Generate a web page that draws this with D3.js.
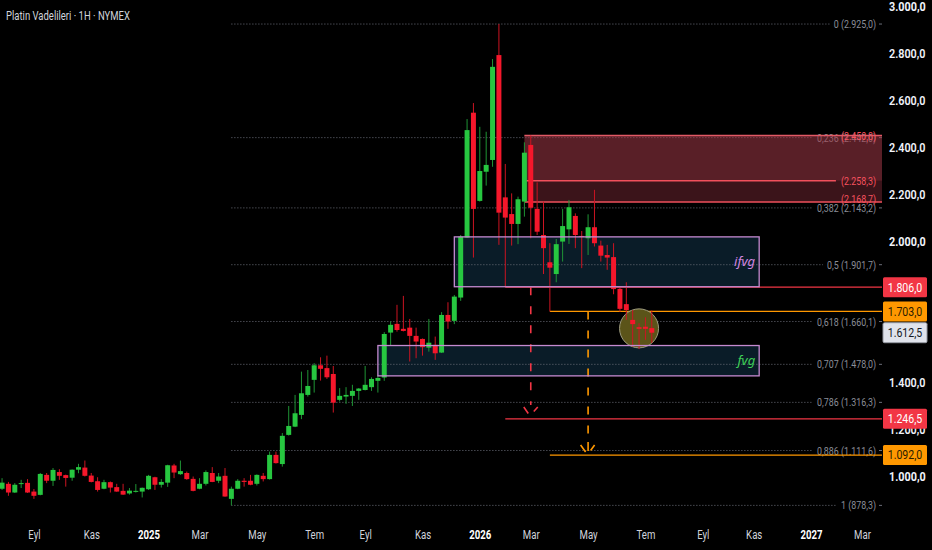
<!DOCTYPE html>
<html>
<head>
<meta charset="utf-8">
<script src="https://cdn.jsdelivr.net/npm/d3@7"></script>
<style>
  html, body { margin: 0; background: #000; overflow: hidden; }
  svg { display: block; }
</style>
</head>
<body>
<svg id="chart" width="932" height="550"></svg>
<script>
// Haftalık mumlar (1H = 1 hafta), ilk mum haftası
const firstWeek = "2024-07-29";

const open = [949, 970, 933, 969, 974, 937, 923, 1008, 983, 1020, 1007, 996, 1030, 1039, 1005, 981, 949, 977, 956, 940,
  929, 937, 937, 947, 998, 966, 975, 1048, 1011, 1016, 991, 949, 970, 1016, 983, 1004, 906, 949, 983, 983,
  970, 1004, 990, 1093, 1054, 1178, 1213, 1263, 1348, 1412, 1474, 1462, 1437, 1327, 1341, 1344, 1365, 1369, 1381, 1408,
  1422, 1613, 1650, 1629, 1634, 1599, 1586, 1549, 1561, 1528, 1688, 1663, 1762, 2017, 2548, 2173, 2297, 2347, 2793, 2188,
  2117, 2075, 2170, 2411, 2139, 2028, 1912, 1862, 2000, 2052, 2109, 2024, 2014, 2061, 1983, 1943, 1934, 1799, 1734, 1667,
  1636, 1638, 1632];
const high = [994, 978, 973, 987, 990, 948, 1016, 1016, 1037, 1032, 1009, 1031, 1055, 1069, 1016, 998, 987, 980, 970, 970,
  952, 969, 954, 1008, 1000, 990, 1051, 1055, 1069, 1022, 1001, 994, 1027, 1041, 1016, 1037, 958, 990, 994, 1008,
  1010, 1016, 1107, 1107, 1186, 1301, 1348, 1447, 1454, 1483, 1508, 1515, 1471, 1377, 1381, 1391, 1377, 1471, 1423, 1433,
  1615, 1660, 1731, 1769, 1671, 1634, 1588, 1671, 1596, 1700, 1742, 1773, 2028, 2521, 2589, 2488, 2467, 2776, 2925, 2330,
  2205, 2191, 2422, 2451, 2252, 2170, 1993, 2011, 2139, 2177, 2120, 2045, 2116, 2220, 2004, 1986, 1993, 1804, 1827, 1709,
  1653, 1678, 1707];
const low = [944, 919, 931, 952, 931, 906, 921, 973, 961, 987, 958, 983, 1015, 1001, 976, 937, 947, 933, 936, 923,
  924, 933, 912, 944, 944, 954, 957, 994, 1008, 987, 938, 947, 963, 977, 973, 915, 878.3, 947, 958, 964,
  963, 980, 988, 1056, 1043, 1175, 1211, 1245, 1341, 1358, 1409, 1416, 1273, 1320, 1310, 1301, 1327, 1367, 1365, 1358,
  1408, 1556, 1617, 1618, 1490, 1504, 1515, 1532, 1497, 1526, 1629, 1649, 1748, 2015, 1932, 2170, 2238, 2318, 1986, 1806,
  1983, 1989, 2106, 2014, 2028, 1862, 1703, 1827, 1915, 1990, 1972, 1887, 1943, 1979, 1915, 1880, 1776, 1702, 1667, 1553,
  1543, 1582, 1569];
const close = [975, 933, 966, 973, 933, 919, 1012, 983, 1029, 1004, 995, 1030, 1041, 1004, 978, 944, 977, 954, 937, 924,
  941, 940, 953, 1004, 966, 978, 1049, 1018, 1024, 990, 940, 970, 1020, 978, 1001, 916, 949, 983, 978, 966,
  1008, 990, 1093, 1058, 1174, 1216, 1270, 1355, 1386, 1474, 1459, 1423, 1315, 1344, 1348, 1365, 1375, 1391, 1416, 1420,
  1607, 1646, 1624, 1620, 1599, 1575, 1551, 1570, 1525, 1688, 1660, 1766, 2021, 2474, 2139, 2300, 2326, 2743, 2123, 2102,
  2075, 2180, 2378, 2144, 2042, 1972, 1889, 1989, 2066, 2146, 2028, 2020, 2061, 1993, 1940, 1932, 1798, 1714, 1709, 1649,
  1629, 1629, 1612.5];

// Fibonacci düzeltmesi
const fibRatios = [0, 0.236, 0.382, 0.5, 0.618, 0.707, 0.786, 0.886, 1];
const fibValues = [2925.0, 2442.0, 2143.2, 1901.7, 1660.1, 1478.0, 1316.3, 1111.6, 878.3];
const fibFrom = 36;

// Arz bölgesi (kırmızı)
const supplyLevels = [2450.8, 2258.3, 2168.7];
const supplyFrom = 82;

// FVG kutuları
const boxNames = ["ifvg", "fvg"];
const boxTops = [2020, 1558];
const boxBottoms = [1808, 1429];
const boxFrom = [71, 59];
const boxEnd = "2026-11-08";

// Yatay seviyeler
const levelValues = [1806.0, 1703.0, 1246.5, 1092.0];
const levelFrom = [79, 86, 79, 86];
const levelKinds = ["red", "orange", "red", "orange"];

// Hedef okları
const projFrom = [83, 92];
const projStart = [1806, 1703];
const projTip = [1267, 1105];
const projKinds = ["red", "orange"];

// Vurgulanan daire
const circleAt = 100;
const circlePrice = 1631;

const lastPrice = 1612.5;
const yTicks = d3.range(1000, 3001, 200);
const monthNames = ["Oca", "Şub", "Mar", "Nis", "May", "Haz", "Tem", "Ağu", "Eyl", "Eki", "Kas", "Ara"];

// ---------------------------------------------------------------------------
const svg = d3.select("#chart");
const W = 932, H = 550, plotR = 882, plotB = 515;
const colors = { red: "#f23645", orange: "#ff9800" };
const upBody = "#27c740", downBody = "#f5172b", upWick = "#1f9435", downWick = "#cc1422";
const font = "Roboto, 'Noto Sans', sans-serif";

const locale = d3.formatLocale({ decimal: ",", thousands: ".", grouping: [3], currency: ["", ""] });
const fmt = locale.format(",.1f");
const ratioFmt = r => String(r).replace(".", ",");

// metni yatayda sıkıştır (referanstaki dar yazı tipine yaklaşmak için)
function squeeze(sel, k) {
  sel.each(function () {
    const w = this.getComputedTextLength();
    d3.select(this).attr("textLength", w * k).attr("lengthAdjust", "spacingAndGlyphs");
  });
  return sel;
}

const start = new Date(firstWeek + "T00:00:00Z");
const dates = open.map((_, i) => d3.utcMonday.offset(start, i));
const candles = dates.map((d, i) => ({ date: d, o: open[i], h: high[i], l: low[i], c: close[i] }));

const x = d3.scaleUtc()
  .domain([new Date(Date.UTC(2024, 8, 1)), new Date(Date.UTC(2027, 2, 1))])
  .range([33, 862]);
const y = d3.scaleLinear().domain([837.4, 3027.2]).range([plotB, 0]);
const bw = (x(dates[1]) - x(dates[0])) * 0.78;

svg.append("rect").attr("width", W).attr("height", H).attr("fill", "#000");
svg.append("defs").append("clipPath").attr("id", "clip")
  .append("rect").attr("width", plotR).attr("height", plotB);

const plot = svg.append("g").attr("clip-path", "url(#clip)");

// FVG kutu dolguları
const boxes = boxNames.map((n, i) => ({ name: n, top: boxTops[i], bottom: boxBottoms[i], from: dates[boxFrom[i]] }));
const endDate = new Date(boxEnd + "T00:00:00Z");
plot.selectAll(".box").data(boxes).enter().append("rect")
  .attr("x", d => x(d.from))
  .attr("y", d => y(d.top))
  .attr("width", d => x(endDate) - x(d.from))
  .attr("height", d => y(d.bottom) - y(d.top))
  .attr("fill", "#0a1c28");

// Fibonacci seviyeleri
const fibG = plot.append("g");
fibRatios.forEach((r, i) => {
  const yy = y(fibValues[i]);
  const t = fibG.append("text")
    .attr("x", 876).attr("y", yy).attr("dy", "0.35em")
    .attr("text-anchor", "end")
    .attr("fill", "#8b8e98")
    .style("font-family", font).style("font-size", "11.5px")
    .text(`${ratioFmt(r)} (${fmt(fibValues[i])})`);
  const tw = t.node().getComputedTextLength() * 0.77;
  squeeze(t, 0.77);
  fibG.append("line")
    .attr("x1", x(dates[fibFrom])).attr("x2", 876 - tw - 4)
    .attr("y1", yy).attr("y2", yy)
    .attr("stroke", "#6a6d78").attr("stroke-dasharray", "1,2");
  fibG.append("line")
    .attr("x1", 879).attr("x2", 882).attr("y1", yy).attr("y2", yy)
    .attr("stroke", "#6a6d78");
});

// Arz bölgesi
const sx = x(dates[supplyFrom]);
plot.append("rect")
  .attr("x", sx).attr("y", y(supplyLevels[0]))
  .attr("width", plotR - sx).attr("height", y(supplyLevels[1]) - y(supplyLevels[0]))
  .attr("fill", "#a33847").attr("fill-opacity", 0.55);
plot.append("rect")
  .attr("x", sx).attr("y", y(supplyLevels[1]))
  .attr("width", plotR - sx).attr("height", y(supplyLevels[2]) - y(supplyLevels[1]))
  .attr("fill", "#a33847").attr("fill-opacity", 0.36);
supplyLevels.forEach((v, i) => {
  const yy = y(v);
  const t = plot.append("text")
    .attr("x", 876).attr("y", yy).attr("dy", i === 2 ? "0.1em" : "0.35em")
    .attr("text-anchor", "end")
    .attr("fill", "#f7525f")
    .style("font-family", font).style("font-size", "11.5px")
    .text(`(${fmt(v)})`);
  const tw = t.node().getComputedTextLength() * 0.77;
  squeeze(t, 0.77);
  plot.append("line")
    .attr("x1", sx).attr("x2", i === 1 ? 876 - tw - 5 : plotR)
    .attr("y1", yy).attr("y2", yy)
    .attr("stroke", i === 0 ? "#e25a66" : "#f0505c").attr("stroke-width", 1.5);
});

// Yatay seviyeler
levelValues.forEach((v, i) => {
  plot.append("line")
    .attr("x1", x(dates[levelFrom[i]])).attr("x2", plotR)
    .attr("y1", y(v)).attr("y2", y(v))
    .attr("stroke", colors[levelKinds[i]]).attr("stroke-width", 1.3);
});

// Hedef okları
projFrom.forEach((idx, i) => {
  const px = x(dates[idx]);
  const c = colors[projKinds[i]];
  const tipY = y(projTip[i]);
  plot.append("line")
    .attr("x1", px).attr("x2", px)
    .attr("y1", y(projStart[i])).attr("y2", tipY - (i === 0 ? 9 : 12))
    .attr("stroke", c).attr("stroke-width", 1.6)
    .attr("stroke-dasharray", "8,11");
  const head = i === 0
    ? "M-7,-7L-2.5,-0.5M7,-7L3,-2.5"
    : "M-7.5,-7L-2.5,0M6.5,-7L2.5,-1.5M0,-10L0,-1";
  plot.append("path")
    .attr("transform", `translate(${px},${tipY})`)
    .attr("d", head)
    .attr("fill", "none").attr("stroke", c).attr("stroke-width", 1.6);
});

// Daire
plot.append("circle")
  .attr("cx", x(dates[circleAt])).attr("cy", y(circlePrice)).attr("r", 19.5)
  .attr("fill", "#5b5419").attr("stroke", "#9d9b80").attr("stroke-width", 1);

// Mumlar
const cg = plot.selectAll(".mum").data(candles).enter().append("g").attr("class", "mum");
cg.append("line")
  .attr("x1", d => x(d.date)).attr("x2", d => x(d.date))
  .attr("y1", d => y(d.h)).attr("y2", d => y(d.l))
  .attr("stroke", d => d.c >= d.o ? upWick : downWick).attr("stroke-width", 1);
cg.append("rect")
  .attr("x", d => x(d.date) - bw / 2)
  .attr("y", d => y(Math.max(d.o, d.c)))
  .attr("width", bw)
  .attr("height", d => Math.max(1, Math.abs(y(d.o) - y(d.c))))
  .attr("fill", d => d.c >= d.o ? upBody : downBody);

// FVG kutu kenarları ve etiketleri
plot.selectAll(".boxline").data(boxes).enter().append("rect")
  .attr("x", d => x(d.from))
  .attr("y", d => y(d.top))
  .attr("width", d => x(endDate) - x(d.from))
  .attr("height", d => y(d.bottom) - y(d.top))
  .attr("fill", "none").attr("stroke", "#c58ad0").attr("stroke-width", 1.3);
plot.selectAll(".boxlabel").data(boxes).enter().append("text")
  .attr("x", x(endDate) - 4)
  .attr("y", d => (y(d.top) + y(d.bottom)) / 2)
  .attr("dy", "0.35em")
  .attr("text-anchor", "end")
  .attr("fill", d => d.name === "ifvg" ? "#d287e0" : "#3fd157")
  .style("font-family", "'Noto Sans', sans-serif").style("font-style", "italic").style("font-size", "13px")
  .text(d => d.name);

// Başlık
squeeze(svg.append("text")
  .attr("x", 6).attr("y", 20)
  .attr("fill", "#d1d4dc")
  .style("font-family", font).style("font-size", "12.5px")
  .text("Platin Vadelileri · 1H · NYMEX"), 0.76);

// Sağ fiyat ekseni
const yAxis = svg.append("g")
  .attr("transform", `translate(${plotR},0)`)
  .call(d3.axisRight(y).tickValues(yTicks).tickFormat(fmt).tickSize(0).tickPadding(7));
yAxis.select(".domain").remove();
squeeze(yAxis.selectAll("text")
  .attr("fill", "#f0f3fa")
  .style("font-family", font)
  .style("font-size", "12px")
  .style("font-weight", d => d % 1000 === 0 ? 700 : 600), 0.9);

// Fiyat etiketleri
const badges = [
  { v: levelValues[0], bg: colors.red, fg: "#fff" },
  { v: levelValues[1], bg: colors.orange, fg: "#2a1c00" },
  { v: lastPrice, bg: "#e0e3eb", fg: "#131722" },
  { v: levelValues[2], bg: colors.red, fg: "#fff" },
  { v: levelValues[3], bg: colors.orange, fg: "#2a1c00" }
];
const bg = svg.selectAll(".badge").data(badges).enter().append("g").attr("class", "badge");
bg.append("rect")
  .attr("x", plotR + 1).attr("y", d => y(d.v) - 10)
  .attr("width", 44).attr("height", 20).attr("rx", 1.5)
  .attr("fill", d => d.bg)
  .attr("stroke", d => d.v === lastPrice ? "#9598a1" : "none");
squeeze(bg.append("text")
  .attr("x", plotR + 23).attr("y", d => y(d.v)).attr("dy", "0.36em")
  .attr("text-anchor", "middle")
  .attr("fill", d => d.fg)
  .style("font-family", font).style("font-size", "12px")
  .text(d => fmt(d.v)), 0.88);

// Alt zaman ekseni
const labelMonths = d3.utcMonth.range(new Date(Date.UTC(2024, 8, 1)), new Date(Date.UTC(2027, 3, 1)), 2);
const labelDates = labelMonths.map(m => d3.utcMonday.ceil(m));
const isYear = d => d3.utcMonth.floor(d).getUTCMonth() === 0;
const xAxis = svg.append("g")
  .attr("transform", `translate(0,${plotB})`)
  .call(d3.axisBottom(x).tickValues(labelDates).tickSize(0).tickPadding(15)
    .tickFormat(d => {
      const m = d3.utcMonth.floor(d);
      return m.getUTCMonth() === 0 ? String(m.getUTCFullYear()) : monthNames[m.getUTCMonth()];
    }));
xAxis.select(".domain").remove();
squeeze(xAxis.selectAll("text")
  .style("font-family", font)
  .style("font-size", "12px")
  .attr("fill", d => isYear(d) ? "#ffffff" : "#d1d4dc")
  .style("font-weight", d => isYear(d) ? 700 : 400), 0.8);
</script>
</body>
</html>
